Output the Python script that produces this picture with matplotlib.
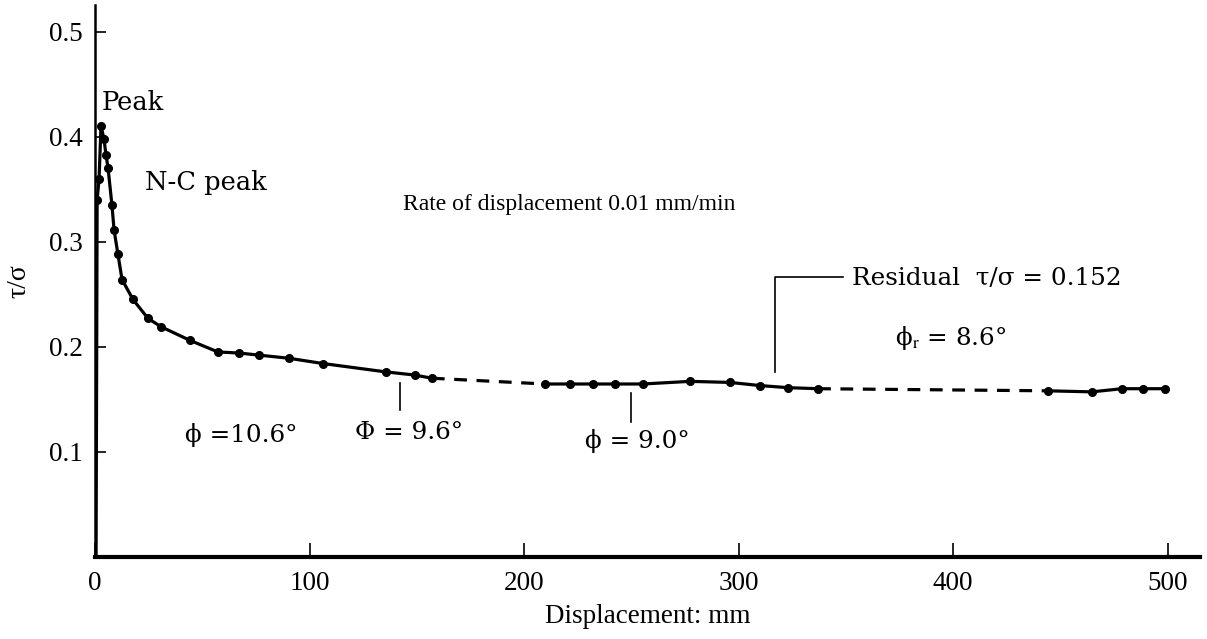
import matplotlib
matplotlib.use("Agg")
import matplotlib.pyplot as plt

plt.rcParams['font.family'] = ['Liberation Serif', 'DejaVu Serif']
plt.rcParams['mathtext.fontset'] = 'stix'

# datos
rise_x = [0.5, 0.8, 1.0, 1.9, 2.8]
rise_y = [0.0, 0.20, 0.34, 0.36, 0.41]

seg1_x = [2.8, 4.2, 5.1, 6.1, 7.9, 8.9, 10.7, 12.6, 17.7, 24.7, 30.8, 44.3,
          57.3, 67.1, 76.4, 90.4, 106.2, 135.6, 149.1, 157.0]
seg1_y = [0.410, 0.398, 0.383, 0.370, 0.335, 0.311, 0.288, 0.264, 0.245,
          0.227, 0.219, 0.206, 0.195, 0.194, 0.192, 0.189, 0.184, 0.176,
          0.173, 0.170]

seg2_x = [209.7, 221.3, 232.0, 242.3, 255.4, 277.3, 295.9, 309.9, 323.0, 337.0]
seg2_y = [0.1645, 0.1645, 0.1645, 0.1645, 0.1645, 0.167, 0.166, 0.163, 0.161, 0.160]

seg3_x = [444.1, 464.6, 478.6, 488.4, 498.6]
seg3_y = [0.158, 0.157, 0.160, 0.160, 0.160]

x_ticks = [0, 100, 200, 300, 400, 500]
y_ticks = [0.1, 0.2, 0.3, 0.4, 0.5]

fig = plt.figure(figsize=(12.07, 6.39), dpi=100)
ax = fig.add_axes([0.0787, 0.1288, 0.9155, 0.8626])

k = 'black'
ms = 5.5
ax.plot(rise_x, rise_y, color=k, lw=2.3, marker='o', ms=ms, markevery=[2, 3])
ax.plot(seg1_x, seg1_y, color=k, lw=2.3, marker='o', ms=ms)
ax.plot(seg2_x, seg2_y, color=k, lw=2.3, marker='o', ms=ms)
ax.plot(seg3_x, seg3_y, color=k, lw=2.3, marker='o', ms=ms)

# tramos a trazos entre los segmentos
ax.plot([seg1_x[-1], seg2_x[0]], [seg1_y[-1], seg2_y[0]], color=k, lw=2.3,
        linestyle=(0, (4, 3)))
ax.plot([seg2_x[-1], seg3_x[0]], [seg2_y[-1], seg3_y[0]], color=k, lw=2.3,
        linestyle=(0, (4, 3)))

# anotaciones (fuente serif ancha, como en la original)
serif = ['DejaVu Serif']
big = 17.7
ax.text(3.3, 0.433, 'Peak', fontsize=18.5, va='center', family=serif)
ax.text(23.3, 0.356, 'N-C peak', fontsize=18.5, va='center', family=serif)
ax.text(221, 0.335, 'Rate of displacement 0.01 mm/min', fontsize=17,
        ha='center', va='center')
ax.text(352.7, 0.265, 'Residual  τ/σ = 0.152', fontsize=big, va='center',
        family=serif)
ax.text(372.8, 0.208, r'ϕ$_\mathrm{r}$ = 8.6°', fontsize=big, va='center',
        family=serif)
ax.plot([316.9, 316.9, 348.6], [0.176, 0.266, 0.266], color=k, lw=1.2)

ax.text(41.9, 0.116, 'ϕ =10.6°', fontsize=big, va='center', family=serif)
ax.text(121.2, 0.118, 'Φ = 9.6°', fontsize=big, va='center', family=serif)
ax.plot([142.1, 142.1], [0.140, 0.165], color=k, lw=1.2)
ax.text(228.3, 0.110, 'ϕ = 9.0°', fontsize=big, va='center', family=serif)
ax.plot([249.8, 249.8], [0.128, 0.156], color=k, lw=1.2)

ax.set_xlim(0, 515)
ax.set_ylim(0, 0.525)
ax.set_xticks(x_ticks)
ax.set_yticks(y_ticks)
ax.set_yticklabels(['0.1', '0.2', '0.3', '0.4', '0.5'])
ax.tick_params(axis='both', direction='in', labelsize=19.5, width=1.2)
ax.tick_params(axis='x', length=10, pad=10)
ax.tick_params(axis='y', length=8, pad=9)

ax.spines['top'].set_visible(False)
ax.spines['right'].set_visible(False)
ax.spines['bottom'].set_linewidth(3)
ax.spines['left'].set_linewidth(1.8)

ax.set_xlabel('Displacement: mm', fontsize=19.5, labelpad=6)
ax.set_ylabel('τ/σ', fontsize=20, labelpad=12)

fig.savefig('out.png', dpi=100)
